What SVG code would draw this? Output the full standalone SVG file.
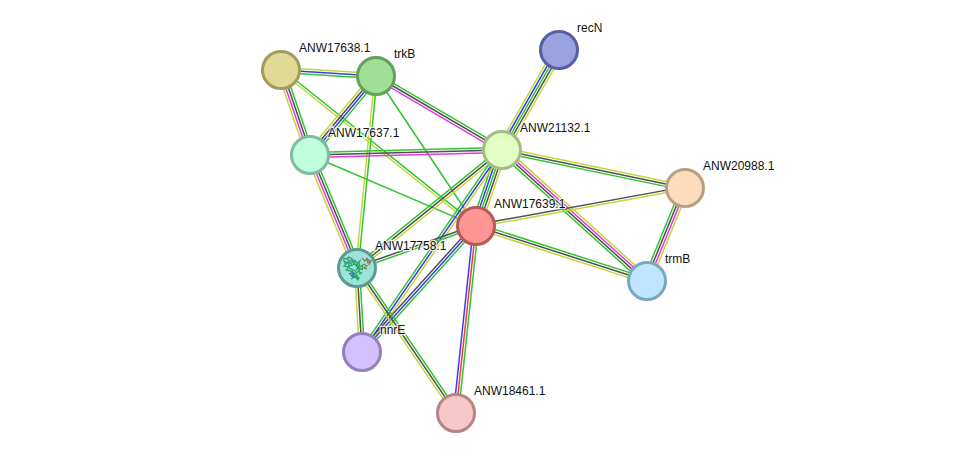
<svg xmlns="http://www.w3.org/2000/svg" width="975" height="458" viewBox="0 0 975 458">
<style>
  path.e { fill: none; stroke-width: 1.5; }
  .g { stroke: #2fc62f; }
  .y { stroke: #c4d636; }
  .b { stroke: #3a3af2; }
  .k { stroke: #505050; }
  .m { stroke: #e03ce0; }
  .r { stroke: #f23a3a; }
  circle.n { stroke-width: 3; }
  text { font-family: "Liberation Sans", Arial, sans-serif; font-size: 12px; fill: #111; stroke: #fff; stroke-width: 2.5px; stroke-opacity: .75; paint-order: stroke; }
</style>
<defs>
  <clipPath id="ball"><circle cx="357" cy="268" r="17"/></clipPath>
</defs>
<rect width="975" height="458" fill="#fff"/>
<g id="connectors">
  <g transform="translate(281 70) rotate(3.6)"><path class="e y" d="M0-2.5H95"/><path class="e b" d="M0 0H95"/><path class="e g" d="M0 2.5H95"/></g>
  <g transform="translate(281 70) rotate(71.2)"><path class="e g" d="M0-3.75H90"/><path class="e k" d="M0-1.25H90"/><path class="e m" d="M0 1.25H90"/><path class="e y" d="M0 3.75H90"/></g>
  <g transform="translate(281 70) rotate(38.7)"><path class="e g" d="M0-1.25H250"/><path class="e y" d="M0 1.25H250"/></g>
  <g transform="translate(310 155) rotate(-50.1)"><path class="e y" d="M0-3.75H103"/><path class="e k" d="M0-1.25H103"/><path class="e b" d="M0 1.25H103"/><path class="e g" d="M0 3.75H103"/></g>
  <g transform="translate(376 76) rotate(30.4)"><path class="e g" d="M0-2.5H146"/><path class="e k" d="M0 0H146"/><path class="e m" d="M0 2.5H146"/></g>
  <g transform="translate(376 76) rotate(56.3)"><path class="e g" d="M0 0H180"/></g>
  <g transform="translate(376 76) rotate(95.65)"><path class="e g" d="M0-1.25H193"/><path class="e y" d="M0 1.25H193"/></g>
  <g transform="translate(310 155) rotate(-1.5)"><path class="e g" d="M0-2.5H192"/><path class="e k" d="M0 0H192"/><path class="e m" d="M0 2.5H192"/></g>
  <g transform="translate(310 155) rotate(23.2)"><path class="e g" d="M0 0H180"/></g>
  <g transform="translate(310 155) rotate(67.4)"><path class="e g" d="M0-3.75H122"/><path class="e k" d="M0-1.25H122"/><path class="e m" d="M0 1.25H122"/><path class="e y" d="M0 3.75H122"/></g>
  <g transform="translate(502 150) rotate(-60.3)"><path class="e y" d="M0-4.8H115"/><path class="e b" d="M0-2.4H115"/><path class="e g" d="M0 0H115"/><path class="e k" d="M0 2.4H115"/><path class="e y" d="M0 4.8H115"/></g>
  <g transform="translate(502 150) rotate(11.7)"><path class="e y" d="M0-2.5H187"/><path class="e k" d="M0 0H187"/><path class="e g" d="M0 2.5H187"/></g>
  <g transform="translate(502 150) rotate(42.1)"><path class="e y" d="M0-3.75H195"/><path class="e m" d="M0-1.25H195"/><path class="e k" d="M0 1.25H195"/><path class="e g" d="M0 3.75H195"/></g>
  <g transform="translate(476 226) rotate(-71.1)"><path class="e g" d="M0-4.8H80"/><path class="e b" d="M0-2.4H80"/><path class="e g" d="M0 0H80"/><path class="e k" d="M0 2.4H80"/><path class="e y" d="M0 4.8H80"/></g>
  <g transform="translate(357 268) rotate(-39.1)"><path class="e g" d="M0-2.5H187"/><path class="e k" d="M0 0H187"/><path class="e y" d="M0 2.5H187"/></g>
  <g transform="translate(362 352) rotate(-55.3)"><path class="e g" d="M0-2.5H246"/><path class="e b" d="M0 0H246"/><path class="e y" d="M0 2.5H246"/></g>
  <g transform="translate(362 352) rotate(-47.9)"><path class="e k" d="M0-2.5H170"/><path class="e b" d="M0 0H170"/><path class="e g" d="M0 2.5H170"/></g>
  <g transform="translate(357 268) rotate(-19.4)"><path class="e k" d="M0-1.25H126"/><path class="e g" d="M0 1.25H126"/></g>
  <g transform="translate(476 226) rotate(-10.3)"><path class="e k" d="M0-1.25H212"/><path class="e y" d="M0 1.25H212"/></g>
  <g transform="translate(476 226) rotate(17.8)"><path class="e g" d="M0-2.5H180"/><path class="e k" d="M0 0H180"/><path class="e y" d="M0 2.5H180"/></g>
  <g transform="translate(456 413) rotate(-83.9)"><path class="e b" d="M0-2.5H188"/><path class="e r" d="M0 0H188"/><path class="e g" d="M0 2.5H188"/></g>
  <g transform="translate(647 281) rotate(-67.8)"><path class="e g" d="M0-3.75H100"/><path class="e k" d="M0-1.25H100"/><path class="e m" d="M0 1.25H100"/><path class="e y" d="M0 3.75H100"/></g>
  <g transform="translate(357 268) rotate(86.6)"><path class="e g" d="M0-2.5H84"/><path class="e k" d="M0 0H84"/><path class="e y" d="M0 2.5H84"/></g>
  <g transform="translate(357 268) rotate(55.7)"><path class="e g" d="M0-2.5H176"/><path class="e k" d="M0 0H176"/><path class="e y" d="M0 2.5H176"/></g>
</g>
<g id="ANW17638.1"><circle class="n" cx="281" cy="70" r="18.5" fill="#dfdb96" stroke="#a09d5c"/><text x="299" y="52">ANW17638.1</text></g>
<g id="trkB"><circle class="n" cx="376" cy="76" r="18.5" fill="#a0e096" stroke="#649f5e"/><text x="394" y="58">trkB</text></g>
<g id="recN"><circle class="n" cx="559" cy="50" r="18.5" fill="#98a3e0" stroke="#5660a0"/><text x="577" y="32">recN</text></g>
<g id="ANW17637.1"><circle class="n" cx="310" cy="155" r="18.5" fill="#bfffdc" stroke="#7fbb9c"/><text x="328" y="137">ANW17637.1</text></g>
<g id="ANW21132.1"><circle class="n" cx="502" cy="150" r="18.5" fill="#e2ffc4" stroke="#a3bc85"/><text x="520" y="132">ANW21132.1</text></g>
<g id="ANW20988.1"><circle class="n" cx="685" cy="188" r="18.5" fill="#fddcbe" stroke="#b9a082"/><text x="703" y="170">ANW20988.1</text></g>
<g id="ANW17639.1"><circle class="n" cx="476" cy="226" r="18.5" fill="#ff9696" stroke="#b85858"/><text x="494" y="208">ANW17639.1</text></g>
<g id="ANW17758.1">
  <circle class="n" cx="357" cy="268" r="18.5" fill="#9ee3d9" stroke="#5b9a93"/>
  <!-- ribbon sketch of the protein fold -->
  <g clip-path="url(#ball)" fill="none" stroke-width="1.3">
    <path stroke="#2aa866" d="M343 260l4 3-3 3 5 1-3 3 5 1M347 258l3 4 2-3 2 5 2-4M349 268l4 2-2 3 4 1-2 3 4-1M344 263l4-1 1 4 4-1M342 258l4 1 3-2 3 2"/>
    <path stroke="#23b04a" d="M352 261l4 4 3-3 1 5 3-2-1 5M354 270l3 3 2-3 1 4 2-2M356 276l3 2-2 2M353 264l5 1 1 4 4 0M352 274l5 1 1 4M351 279l4-2 4 3"/>
    <path stroke="#8a7a52" d="M362 258l3 3 2-2 1 4 3-2-2 4M364 264l3 2-3 2 3 1M366 258l4 3"/>
    <path stroke="#3a78b8" d="M351 271l3 2-2 3 4 1M356 265l2 3-2 2M349 273l3 3"/>
    <path stroke="#3f9a9a" d="M345 265l3-3 3 2 3-4 3 3 4-3"/>
  </g>
  <text x="375" y="250">ANW17758.1</text>
</g>
<g id="trmB"><circle class="n" cx="647" cy="281" r="18.5" fill="#bfe6ff" stroke="#7fa6be"/><text x="665" y="263">trmB</text></g>
<g id="nnrE"><circle class="n" cx="362" cy="352" r="18.5" fill="#d3c0ff" stroke="#9380bf"/><text x="380" y="334">nnrE</text></g>
<g id="ANW18461.1"><circle class="n" cx="456" cy="413" r="18.5" fill="#f8c8c8" stroke="#b88484"/><text x="474" y="395">ANW18461.1</text></g>
</svg>
